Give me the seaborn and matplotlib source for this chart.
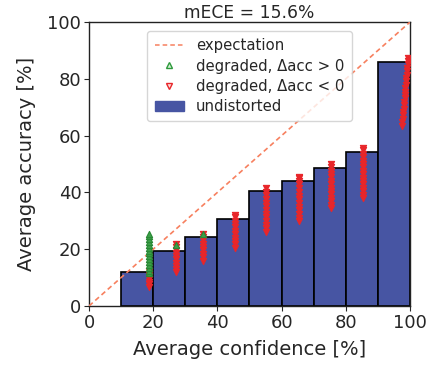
import numpy as np
import pandas as pd
import matplotlib
matplotlib.use("Agg")
import matplotlib.pyplot as plt
from matplotlib.lines import Line2D
from matplotlib.patches import Patch
import seaborn as sns

# ---- data ----
bin_edges = [10, 20, 30, 40, 50, 60, 70, 80, 90, 100]
bin_centers = [15, 25, 35, 45, 55, 65, 75, 85, 95]
bin_accuracy = [12, 19.4, 24.3, 30.6, 40.5, 44, 48.6, 54.2, 86]

green_x = [18.8] * 15 + [27.0, 35.6]
green_y = [11.5, 12.5, 13.5, 14.5, 15.5, 16.5, 17.5, 18.5, 19.5, 20.5,
           21.5, 22.5, 23.5, 24.5, 25.3, 21.5, 25.2]

red_x = ([18.8] * 7 + [27.0] * 10 + [35.6] * 9 + [45.5] * 11 + [55.2] * 13
         + [65.4] * 14 + [75.5] * 14 + [85.5] * 16
         + [97.5, 97.6, 97.7, 97.8, 97.9, 98.0, 98.1, 98.2, 98.3, 98.4, 98.5,
            98.6, 98.7, 98.8, 98.9, 99.0, 99.1, 99.2, 99.3, 99.4, 99.5])
red_y = ([6.8, 7.7, 8.6, 9.5, 10.4, 11.3, 12.2]
         + [12, 13.1, 14.2, 15.3, 16.4, 17.5, 18.6, 19.7, 20.8, 21.9]
         + [16, 17.2, 18.4, 19.6, 20.8, 22, 23.2, 24.4, 25.3]
         + [20.5, 21.7, 22.9, 24.1, 25.3, 26.5, 27.7, 28.9, 30.1, 31.2, 32.2]
         + [26, 27.3, 28.6, 29.9, 31.2, 32.5, 33.8, 35.1, 36.4, 37.7, 39, 40.3, 41.5]
         + [29.8, 31.1, 32.4, 33.7, 35, 36.3, 37.6, 38.9, 40.2, 41.5, 42.8,
            44.1, 45, 45.6]
         + [34.5, 35.7, 36.9, 38.1, 39.3, 40.5, 41.7, 42.9, 44.1, 45.3, 46.5,
            47.7, 48.9, 50]
         + [38, 39.2, 40.4, 41.6, 42.8, 44, 45.2, 46.4, 47.6, 48.8, 50,
            51.2, 52.4, 53.6, 54.8, 55.8]
         + [63.5, 64.7, 65.9, 67.1, 68.3, 69.5, 70.7, 71.9, 73.1, 74.3, 75.5,
            76.7, 77.9, 79.1, 80.3, 81.5, 82.7, 83.9, 85.1, 86.3, 87.5])

title_text = "mECE = 15.6%"
xlabel = "Average confidence [%]"
ylabel = "Average accuracy [%]"
ticks = [0, 20, 40, 60, 80, 100]

# ---- style ----
sns.set_style("ticks")
plt.rcParams['font.family'] = ['DejaVu Sans']

bar_color = "#4755a3"
green = "#2e9a3c"
red = "#e8262a"
exp_color = "#f7805f"

fig = plt.figure(figsize=(4.35, 3.68), dpi=100)
ax = fig.add_axes([0.2046, 0.1685, 0.7379, 0.7715])

bars_df = pd.DataFrame({"conf": bin_centers, "acc": bin_accuracy})
sns.histplot(data=bars_df, x="conf", weights="acc", bins=bin_edges,
             color=bar_color, alpha=1.0, edgecolor="black", linewidth=1.2,
             ax=ax, zorder=1)

exp_df = pd.DataFrame({"x": [0, 100], "y": [0, 100]})
sns.lineplot(data=exp_df, x="x", y="y", color=exp_color, linestyle=(0, (3, 2)),
             linewidth=1.2, ax=ax, zorder=3)

sns.scatterplot(x=red_x, y=red_y, marker="v", s=20, color=red,
                edgecolor=red, linewidth=0.8, ax=ax, zorder=4)
sns.scatterplot(x=green_x, y=green_y, marker="^", s=20, color="#3c9f48",
                edgecolor="#2a8a36", linewidth=0.8, ax=ax, zorder=5)

ax.set_xlim(0, 100)
ax.set_ylim(0, 100)
ax.set_xticks(ticks)
ax.set_yticks(ticks)
ax.tick_params(labelsize=13, length=3.5, width=0.8, pad=2)
ax.set_xlabel(xlabel, fontsize=14, labelpad=6)
ax.set_ylabel(ylabel, fontsize=14, labelpad=8)
ax.set_title(title_text, fontsize=12.3, pad=3)
for sp in ax.spines.values():
    sp.set_visible(True)
    sp.set_color("#222222")
    sp.set_linewidth(1.0)

handles = [
    Line2D([], [], color=exp_color, linestyle=(0, (3, 2)), linewidth=1.1),
    Line2D([], [], linestyle="none", marker="^", markersize=5,
           markerfacecolor="#d8f0d8", markeredgecolor=green, markeredgewidth=1),
    Line2D([], [], linestyle="none", marker="v", markersize=5,
           markerfacecolor="#fbdcdc", markeredgecolor=red, markeredgewidth=1),
    Patch(facecolor=bar_color, edgecolor=bar_color),
]
labels = ["expectation", "degraded, \u0394acc > 0", "degraded, \u0394acc < 0",
          "undistorted"]
ax.legend(handles, labels, loc="upper center", fontsize=10.7,
          frameon=True, borderpad=0.5, labelspacing=0.35,
          handlelength=2.0, bbox_to_anchor=(0.5, 0.995))

fig.savefig("out.png", dpi=100)
